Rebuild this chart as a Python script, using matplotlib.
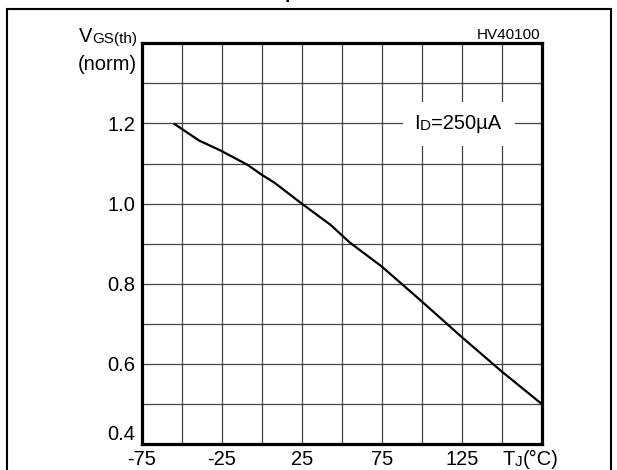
import matplotlib
matplotlib.use("Agg")
import matplotlib.pyplot as plt
from matplotlib.patches import Rectangle

plt.rcParams['font.family'] = ['Liberation Sans', 'DejaVu Sans']

# normalized gate threshold voltage vs junction temperature
temp = [-55, -39, -26, -9, 0, 8, 25, 43, 55, 75, 100, 125, 150, 175]
vth = [1.200, 1.157, 1.133, 1.097, 1.072, 1.052, 1.000, 0.947, 0.903,
       0.843, 0.756, 0.667, 0.581, 0.500]

x_grid = [-75, -50, -25, 0, 25, 50, 75, 100, 125, 150, 175]
x_labels = ["-75", "", "-25", "", "25", "", "75", "", "125", "", ""]
y_grid = [0.4, 0.5, 0.6, 0.7, 0.8, 0.9, 1.0, 1.1, 1.2, 1.3, 1.4]
y_labels = ["0.4", "", "0.6", "", "0.8", "", "1.0", "", "1.2", "", ""]

BIG, SMALL = 14.5, 11

W, H = 617, 470
fig = plt.figure(figsize=(W / 100, H / 100), dpi=100)
ax = fig.add_axes([141.7 / W, (H - 444) / H, 400 / W, 400.7 / H])


def fx(px):
    return px / W


def fy(py):
    return (H - py) / H


def chain(parts, x, y, trans):
    # text pieces left to right on one baseline; small=True -> smaller font
    first_txt, first_small = parts[0]
    t = fig.text(x, y, first_txt, transform=trans, ha='left', va='baseline',
                 fontsize=SMALL if first_small else BIG)
    for txt, small in parts[1:]:
        t = ax.annotate(txt, xy=(1, 0), xycoords=t, ha='left', va='bottom',
                        fontsize=SMALL if small else BIG,
                        annotation_clip=False)
    return t


ax.plot(temp, vth, color='black', lw=1.6, zorder=4, solid_capstyle='butt')

ax.set_xlim(-75, 175)
ax.set_ylim(0.4, 1.4)
ax.set_xticks(x_grid)
ax.set_xticklabels(x_labels)
ax.set_yticks(y_grid)
ax.set_yticklabels(y_labels)
ax.tick_params(length=0, labelsize=BIG, colors='black')
ax.tick_params(axis='x', pad=4.5)
ax.tick_params(axis='y', pad=4.5)
ax.get_yticklabels()[0].set_va('bottom')
ax.grid(True, color='#444444', lw=0.9)
ax.set_axisbelow(True)
for s in ax.spines.values():
    s.set_linewidth(2.3)
    s.set_color('black')
    s.set_zorder(5)

# white patch behind the current label
ax.add_patch(Rectangle((88.3, 1.1425), 70, 0.11, facecolor='white',
                       edgecolor='none', zorder=3))
chain([("I", False), ("D", True), ("=250\u00b5A", False)], 95.5, 1.185,
      ax.transData)

# axis titles
t_gs = fig.text(fx(137.3), fy(43.3), "GS(th)", fontsize=SMALL, ha='right',
                va='baseline')
ax.annotate("V", xy=(0, 0), xycoords=t_gs, ha='right', va='bottom',
            fontsize=BIG, annotation_clip=False)
fig.text(fx(137.3), fy(64), "(norm)", fontsize=BIG, ha='right', va='center')
chain([("T", False), ("J", True), ("(\u00b0C)", False)], fx(502.7), fy(465),
      fig.transFigure)

fig.text(fx(540), fy(39.3), "HV40100", fontsize=11, ha='right', va='baseline')

# clipped title above the frame
fig.text(fx(285), 1 + 2 / H, "p", fontsize=14, fontweight='bold', ha='left',
         va='baseline')

# outer frame
fig.add_artist(Rectangle((fx(6.5), -0.1), fx(604), 0.1 + (H - 9) / H,
                         transform=fig.transFigure, fill=False,
                         edgecolor='black', lw=1.5, clip_on=False))

fig.savefig("out.png", dpi=100)
